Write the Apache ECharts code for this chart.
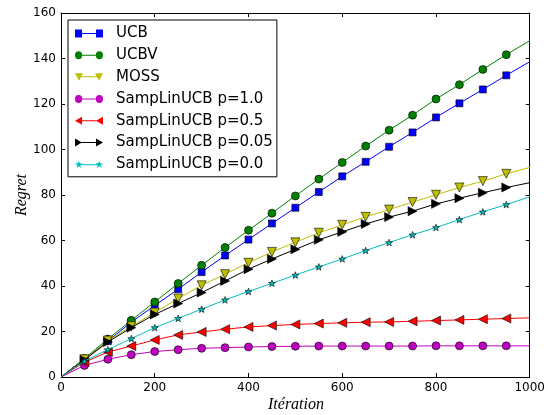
<!DOCTYPE html>
<html><head><meta charset="utf-8">
<script src="https://cdn.jsdelivr.net/npm/echarts@6/dist/echarts.min.js"></script>
<style>html,body{margin:0;padding:0;background:#fff}#c{width:548px;height:415px}</style>
</head><body><div id="c"></div>
<script>
const iterations = [0,50,100,150,200,250,300,350,400,450,500,550,600,650,700,750,800,850,900,950,1000];
const ucb   = [0,8.0,15.8,24.1,31.4,38.6,46.1,53.4,60.4,67.5,74.4,81.3,88.2,94.6,101.2,107.5,114.1,120.3,126.4,132.6,138.6];
const ucbv  = [0,8.1,16.7,24.9,33.0,41.1,49.1,56.9,64.5,72.0,79.6,87.0,94.3,101.5,108.5,115.1,122.2,128.5,135.2,141.7,147.8];
const moss  = [0,7.8,16.0,22.3,28.3,34.5,40.3,45.2,50.2,55.0,59.2,63.4,66.9,70.4,73.6,76.9,80.1,83.3,86.1,89.3,92.1];
const p10   = [0,5.1,7.8,9.8,11.2,12.0,12.6,12.9,13.2,13.4,13.5,13.6,13.6,13.6,13.6,13.6,13.7,13.7,13.7,13.7,13.7];
const p05   = [0,6.5,11.0,13.6,16.3,18.5,19.8,21.0,22.0,22.6,23.1,23.5,23.8,24.1,24.2,24.5,24.8,25.1,25.4,25.7,26.0];
const p005  = [0,7.5,15.4,21.7,27.5,32.3,37.1,42.2,47.4,51.9,56.1,60.3,63.8,67.3,70.3,72.9,76.1,78.6,81.0,83.3,85.4];
const p00   = [0,7.0,12.0,16.9,21.7,25.8,29.8,33.9,37.6,41.2,44.8,48.4,51.9,55.6,59.1,62.5,65.7,69.2,72.6,75.8,79.2];
const names = ['UCB','UCBV','MOSS','SampLinUCB p=1.0','SampLinUCB p=0.5','SampLinUCB p=0.05','SampLinUCB p=0.0'];

const STAR = 'path://M0,-10 L2.35,-3.24 L9.51,-3.09 L3.8,1.24 L5.88,8.09 L0,4 L-5.88,8.09 L-3.8,1.24 L-9.51,-3.09 L-2.35,-3.24 Z';
function starAt(cx){
  const pts=[[0,-4],[0.94,-1.3],[3.8,-1.24],[1.52,0.5],[2.35,3.24],[0,1.6],[-2.35,3.24],[-1.52,0.5],[-3.8,-1.24],[-0.94,-1.3]];
  return 'M'+pts.map(p=>(cx+p[0]).toFixed(2)+','+(4+p[1]).toFixed(2)).join(' L')+' Z';
}
const LINE = 'M6,3.5 L22,3.5 L22,4.5 L6,4.5 Z ';
const legendIcons = [
  'path://M0,0 L7,0 L7,8 L0,8 Z '+LINE+'M21,0 L28,0 L28,8 L21,8 Z',
  'path://M0,4 A3.6,4 0 1 1 7.2,4 A3.6,4 0 1 1 0,4 Z '+LINE+'M20.8,4 A3.6,4 0 1 1 28,4 A3.6,4 0 1 1 20.8,4 Z',
  'path://M0,0.5 L8,0.5 L4,8 Z '+LINE+'M20,0.5 L28,0.5 L24,8 Z',
  'path://M0,4 A3.6,4 0 1 1 7.2,4 A3.6,4 0 1 1 0,4 Z '+LINE+'M20.8,4 A3.6,4 0 1 1 28,4 A3.6,4 0 1 1 20.8,4 Z',
  'path://M0,4 L7,0 L7,8 Z '+LINE+'M21,4 L28,0 L28,8 Z',
  'path://M0,0 L7,4 L0,8 Z '+LINE+'M21,0 L28,4 L21,8 Z',
  'path://'+starAt(4)+' '+LINE+starAt(24)
];
const styles = [
  {color:'#0000ff', symbol:'rect', size:7, rot:0},
  {color:'#008000', symbol:'circle', size:8, rot:0},
  {color:'#bfbf00', symbol:'triangle', size:9, rot:180},
  {color:'#bf00bf', symbol:'circle', size:8, rot:0},
  {color:'#ff0000', symbol:'triangle', size:9, rot:90},
  {color:'#000000', symbol:'triangle', size:9, rot:-90},
  {color:'#00bfbf', symbol:STAR, size:7, rot:0}
];
const allData = [ucb,ucbv,moss,p10,p05,p005,p00];

function mk(vals){
  return iterations.map((x,i)=>{
    const item = {value:[x, vals[i]]};
    if (i===0 || i===iterations.length-1) item.symbol='none';
    return item;
  });
}

const series = allData.map((vals,k)=>({
  name: names[k], type:'line', data: mk(vals),
  symbol: styles[k].symbol, symbolSize: styles[k].size, symbolRotate: styles[k].rot,
  symbolKeepAspect:true, showAllSymbol:true,
  lineStyle:{color:styles[k].color, width:1},
  itemStyle:{color:styles[k].color, borderColor:'#000', borderWidth:0.6},
  animation:false, z: 2+k
}));

const axisCommon = {
  type:'value', splitLine:{show:false},
  axisLine:{show:true, onZero:false, lineStyle:{color:'#000', width:1}},
  axisTick:{show:true, inside:true, length:4, lineStyle:{color:'#000'}},
};
const chart = echarts.init(document.getElementById('c'), null, {renderer:'canvas'});
chart.setOption({
  backgroundColor:'#fff',
  animation:false,
  grid:{left:61, right:16, top:13, bottom:38},
  legend:{
    show:true, orient:'vertical', left:68, top:20,
    padding:[6,4,5,7],
    borderColor:'#000', borderWidth:1, backgroundColor:'#fff',
    itemWidth:28, itemHeight:8, itemGap:6.8,
    textStyle:{fontFamily:'DejaVu Sans', fontSize:15, color:'#000', padding:[0,0,0,8]},
    data: names.map((n,k)=>({name:n, icon:legendIcons[k],
      itemStyle:{color:styles[k].color, borderWidth:0}}))
  },
  xAxis:[
    Object.assign({}, axisCommon, {min:0, max:1000, interval:200, position:'bottom',
      axisLabel:{color:'#000', fontFamily:'DejaVu Sans', fontSize:12, margin:5, formatter:v=>String(v)}}),
    Object.assign({}, axisCommon, {min:0, max:1000, interval:200, position:'top',
      axisLabel:{show:false}})
  ],
  yAxis:[
    Object.assign({}, axisCommon, {min:0, max:160, interval:20, position:'left',
      axisLabel:{color:'#000', fontFamily:'DejaVu Sans', fontSize:12, margin:5}}),
    Object.assign({}, axisCommon, {min:0, max:160, interval:20, position:'right',
      axisLabel:{show:false}})
  ],
  graphic:[
    {type:'text', style:{text:'Itération', font:'italic 16px "Liberation Serif"', fill:'#000', align:'center', verticalAlign:'middle'},
     x:296, y:405},
    {type:'text', style:{text:'Regret', font:'italic 16px "Liberation Serif"', fill:'#000', align:'center', verticalAlign:'middle'},
     x:22, y:195, rotation:Math.PI/2}
  ],
  series: series
});
</script></body></html>
